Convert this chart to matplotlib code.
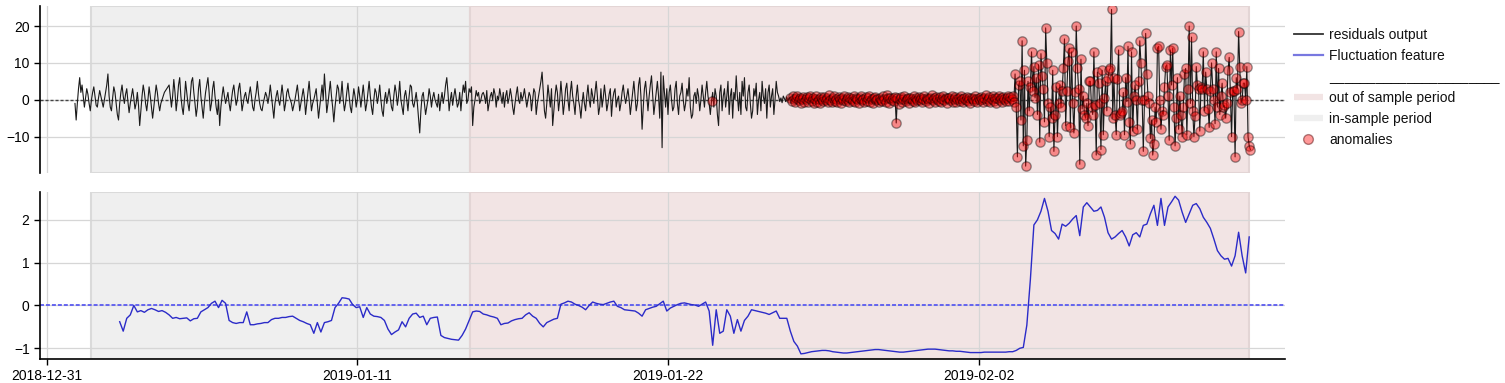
import pandas as pd
import matplotlib
matplotlib.use("Agg")
import matplotlib.pyplot as plt
from matplotlib.lines import Line2D

plt.rcParams['font.family'] = ['Liberation Sans', 'DejaVu Sans']
plt.rcParams['font.size'] = 10

# hourly residuals, one row per day, starting 2019-01-01 00:00
residuals = [
    -1, -5.5, -1, 3, 6, 2, 4, 1, -2, 0.5, 3, 1.5, -1, -3, 0, 2, 3.5, 1, -1.5, -2, 0.5, 2.5, 1, -0.5,
    -2, 0, 2, 4, 7, 1, -2, -3, 0.5, 3.5, 2, -1, -4, -5.5, -1, 2, 4, 1, -1, 1.5, 3, -0.5, -3.5, -1,
    1, 3, 0.5, -2.5, -1, 2, -1.5, -7, -3, 1, 4, 2, -1, -3, 0, 3.5, 1, -2, -5, -2, 1, 4, 2, -1,
    -3, -1, 0, 1, 2, 2.5, 3, 3.5, 4, 1, -2, 1, 5.5, 2, -3, 0, 4, 6, 1, -2, -4, 0, 5, 2,
    -1, -3, 1, 5, 6, 2, -1, -4.5, -2, 3, 5.5, 1, -2, -5, -1, 2, 4, 6, 2, -3, -1, 3, 5, 1,
    -2, -4, 0, -7, -2, 1, 3.5, 1, -1, 0.5, 2, -1, -3, 0, 2.5, 4, 1, -1.5, 0, 3, 4.5, 1, -3, -1,
    1, 2, 0, -1, 1.5, 3.5, 1, -2, -3, 0, 2, 5, 1.5, -1, -2.5, -3, -1, 0.5, 2, 1, -1, 1, 4, 1,
    -2, -5, -1, 1, 2.5, 0, -1.5, 1, 4, 1, -3, -1, 2, 3, 1, 0, -1, -3, -1.5, 0, 2, 4, 1, -3,
    -1, 1, 3, 0.5, -4, -1, 2, 5, 1, -3, -1, 0, 1.5, 3, -1, -5, -2, 1, 4, 0, 7, 2, -3.5, -1,
    2, 5, 1, -2, -6, -2, 1, 4, 3, -1, 1, 5, 0, -3, -1, 2, 4.5, 1, -2, -3.5, 0, 3, 1, -2,
    0, 3.5, 1, -2, 1, 4, 0.5, -3, -1, 2, 5, 1, -2, -4, 0, 3, 2, -1, 1, 4, 0, -3, -4.5, 0,
    2, -1, 1, 3, 0.5, -2, -3, 1, 4, 2, -1.5, 1, 5, 0, -2, -4, 1, 2.5, 0, -3, 1, 4, 3.5, -1,
    -2, 0, 2, -1, -5, -9, -3, 1, 2, -1, -4, -2, 0, 3, 1, -2, 0.5, 2, 0, -1, -2, 1.5, -3, 0,
    2, -1, 1, 4, 6, 2, -3, 0, 2, -1.5, 1, 3, 0.5, -2, -1, 2, -3, 1, 4, 2, 5, -1, 0, 3,
    2, 3.5, -7, -2, 0, 2.5, 1, 2, -1, 0, 1.5, 2, 1, -1, 2.5, -3, -1, 1, 2, 0, 3, 1.5, -2, 1,
    0, 3, 1, -1, 2, -2, 1, 2.5, -1, 0.5, 3, 1, -2, -4, -1, 1.5, 3.5, 0, -1, 2, 0, 1, 3, 0.5,
    -2, 0, 2, 1, -3, 0, 3, 2, -4, -1, 1, 3, 5, 7.5, 2, -3, -5, -1, 4, 1, -2, 3, -7, -3,
    1, 4, 2, -3, 0, 5, 1, -4, -1, 3, 4.5, 0, -3, 2, 5, 1, -1, -4, 1, 4, 0, -2, -5, -1,
    2, -1, -3, 1, 4, 0, -2, 3, 1, -1, 2, 5, 1, -4, -2, 3, -2, 0.5, 4, 1, -3, -1, 1.5, 3,
    -4.5, 0, 2, 3, -2, 0, 1, -3, -1, 2, 4, 1, -1, 1, 3, 0, -4, -1, 2, 5, 1, -3, -1, 4,
    6, 1, -8, -2, 3, 5, 1, -3, 1, 4, 6.5, 1, -4, -1, 2, 5, 1, -5, 7.5, -13, 6.5, 2, -2, 3,
    -4, 2, 4, 0, -3, -2, 3, 5, -1, -4, 1, 2, 4.5, 0, -3, -1, 3, 1, 6, -2, -5, -4, 1, 2,
    -1, 3, 1, -3, 0, 4, 1, -2, 2, 5, 1, -1, -4, -0.3, 2, -2, 3, 1, -4, -7, 2, 4, -3, 1,
    3, -2, 1, 5, -4, 1, 3, -5, 2, 0, 6.5, 1, -3, 2, -4, 5, 1, 6, -2, -3, 2, 4, -1, -5,
    -3, 3, 1, 4.5, -4, 0, 2, -3, 5, 1, -1, 3, -5, 2, 4, -2, 1, 3, -4, 0, 5, 2, 1, -0.5,
    0.5, -0.8, 1, 0.3, -0.5, 0.8, -0.3, 0.5,
    # quiet stretch flagged as anomalous
    0.6, -0.4, 0.9, 0.2, -0.7, 0.5, 1.1, -0.2, 0.4, -0.9, 0.3, 0.8, -0.5, 0.1, 0.7, -0.6,
    0.4, 1.0, -0.3, 0.6, -0.8, 0.2, 0.9, -0.5, 0.3, -1.0, 0.7, 0.1, -0.4, 0.8, -0.2, 0.5, -0.7, 1.2, 0.0, -0.6, 0.4, 0.9, -0.3, 0.2,
    -0.5, 0.7, 0.3, -0.9, 0.6, -0.1, 1.0, -0.4, 0.2, 0.8, -0.7, 0.4, 0.1, -0.3, 0.9, -0.6, 0.5, 0.2, -0.8, 0.6, 1.1, -0.2, 0.3, -0.5,
    0.7, -0.3, 0.4, 1.0, -0.6, 0.2, -0.9, 0.5, 0.8, -0.1, 0.3, -0.7, 0.6, 0.0, -0.4, 0.9, 0.2, -0.5, 1.3, 0.4, -0.8, 0.5, -0.2, 0.6,
    -0.3, 0.8, -6.3, 0.4, -1.1, 0.2, 0.7, -0.5, 0.3, 0.9, -0.4, 0.1, 0.6, -0.8, 0.5, 0.2, -0.3, 1.0, -0.6, 0.4, 0.0, 0.7, -0.2, 0.5,
    -0.7, 0.3, 0.9, -0.4, 0.6, 0.1, -0.9, 0.5, 1.2, -0.2, 0.4, -0.6, 0.8, 0.2, -0.3, 0.7, -0.5, 0.3, 1.0, -0.1, 0.5, -0.8, 0.4, 0.6,
    -0.2, 0.9, -0.5, 0.3, 0.7, -0.7, 0.1, 0.6, -0.4, 1.1, 0.2, -0.6, 0.5, 0.0, 0.8, -0.3, 0.4, -0.9, 0.6, 0.2, -0.4, 0.9, 0.3, -0.6,
    0.5, -0.2, 0.8, 0.1, -0.7, 0.6, 1.2, -0.4, 0.3, 0.7, -0.5, 0.2, 0.9, -0.3, 0.4, -0.8, 0.6, 1.0, -0.1, 0.5, -0.6, 0.8, 0.2, -0.3,
    0.6, 1.0, -0.4, 0.7, 0.2, 1.1, -0.5,
    # high variance stretch
    7, -2, -15.5, 4, 5, -5.5, 16, -12.5, 8, -18, -11, 5, -3, 3.5, 13, 2.5, 9, 0.5, 6, -4,
    9.5, -11.5, 12.5, 6.5, 3, -6, 19.5, 10, -1, -10, -2, -5, 8, -14, -4, 3.5, -10, -1, 4, -2,
    2.5, 8.5, 16.5, -7, 2.5, 10.5, 14, -7.5, 13, -1, -9, 2, 20, 8.5, 3, -17.5, 11, -2.5, 1, -4,
    -5, -1, -7, 5, 5, -2, -4, 13, -1.5, -15, 7.5, 4.5, -1, -13.5, 8, -9.5, 0.5, 5, -3, 6,
    8, 8.5, 24.5, -5, 6, -4, -9.5, 5.5, 13.5, -4, -3.5, -3, 2, -9.5, 6, -0.5, 14.5, -6, -12, 13,
    -8.5, 1, 4, 0, -8, 5, 16, 10, 0, -14, 0, 18, 7, 1, -1, -10.5, -5.5, -15, -12, -2,
    -6, 14, 14.5, 0, -8, -3, -4, 3.5, 9, 9.5, 1, -11, 13.5, 4, 14, -2, -12.5, -5, 6, -8,
    1, -4, -10, -2, 7, 8.5, -9.5, 3, 20, -1, 17, -3, -10, -4.5, 9, 4, 3, -8.5, 3.5, 3,
    13, -3, 7.5, 3, -2.5, -7.5, 2.5, 10, 3, 0, -6.5, 13, -2, 8.5, -4, 1, 4.5, -2, -1.5, -5,
    -1, 8, 11.5, 2, -10, 2.5, 2.5, -15.5, 6, 3, 18.5, 9, -1, 0, 4.5, 4.5, 0, 9, -10, -12.5,
    -13.5,
]

# fluctuation feature every 3 hours, starting 2019-01-02 14:00
fluctuation = [
    -0.38, -0.6, -0.3, -0.22, 0.0, -0.15, -0.12, -0.16,
    -0.1, -0.07, -0.1, -0.14, -0.12, -0.16, -0.22, -0.3,
    -0.28, -0.31, -0.3, -0.29, -0.36, -0.31, -0.3, -0.15,
    -0.1, -0.05, 0.05, 0.1, -0.05, 0.12, 0.05, -0.35,
    -0.4, -0.42, -0.4, -0.4, -0.15, -0.45, -0.45, -0.43,
    -0.42, -0.4, -0.4, -0.33, -0.3, -0.3, -0.28, -0.28,
    -0.26, -0.25, -0.3, -0.35, -0.38, -0.42, -0.45, -0.65,
    -0.4, -0.62, -0.4, -0.38, -0.35, -0.05, 0.05, 0.18,
    0.17, 0.15, 0.02, -0.05, -0.03, -0.28, -0.05, -0.2,
    -0.25, -0.26, -0.28, -0.35, -0.55, -0.68, -0.62, -0.57,
    -0.38, -0.5, -0.3, -0.2, -0.18, -0.28, -0.25, -0.45,
    -0.3, -0.28, -0.27, -0.7, -0.75, -0.77, -0.79, -0.8,
    -0.81, -0.7, -0.55, -0.35, -0.15, -0.13, -0.14, -0.2,
    -0.22, -0.25, -0.27, -0.3, -0.45, -0.42, -0.41, -0.36,
    -0.33, -0.31, -0.3, -0.22, -0.17, -0.25, -0.3, -0.42,
    -0.5, -0.4, -0.36, -0.32, -0.3, 0.03, 0.06, 0.1,
    0.08, 0.03, 0.0, -0.04, -0.1, 0.0, 0.08, 0.05,
    0.03, 0.02, 0.05, 0.08, 0.1, -0.02, -0.05, -0.1,
    -0.11, -0.12, -0.13, -0.18, -0.25, -0.1, -0.07, -0.04,
    -0.02, 0.04, 0.1, -0.13, -0.06, -0.02, 0.02, 0.05,
    0.06, 0.04, 0.02, 0.01, -0.02, 0.03, 0.08, -0.13,
    -0.93, -0.1, -0.65, -0.6, -0.1, -0.25, -0.65, -0.33,
    -0.6, -0.35, -0.25, -0.1, -0.12, -0.14, -0.16, -0.18,
    -0.21, -0.17, -0.13, -0.3, -0.3, -0.3, -0.6, -0.84,
    -0.95, -1.13, -1.12, -1.1, -1.08, -1.07, -1.06, -1.05,
    -1.05, -1.06, -1.08, -1.09, -1.1, -1.11, -1.11, -1.1,
    -1.09, -1.08, -1.07, -1.06, -1.05, -1.04, -1.03, -1.03,
    -1.04, -1.05, -1.06, -1.07, -1.08, -1.09, -1.09, -1.08,
    -1.07, -1.06, -1.05, -1.04, -1.03, -1.02, -1.02, -1.02,
    -1.03, -1.04, -1.05, -1.06, -1.06, -1.07, -1.07, -1.08,
    -1.09, -1.1, -1.1, -1.1, -1.1, -1.09, -1.09, -1.09,
    -1.09, -1.09, -1.09, -1.09, -1.08, -1.08, -1.05, -1.0,
    -0.98, -0.46, 0.6, 1.88, 2.0, 2.2, 2.5, 2.2,
    1.75, 1.68, 1.55, 1.9, 1.85, 1.92, 2.02, 2.1,
    1.63, 2.3, 2.4, 2.3, 2.2, 2.22, 2.3, 2.06,
    1.7, 1.55, 1.6, 1.68, 1.75, 1.6, 1.39, 1.65,
    1.7, 1.6, 1.87, 1.9, 2.14, 2.34, 1.87, 2.5,
    1.87, 2.3, 2.42, 2.55, 2.46, 2.18, 1.94, 2.14,
    2.34, 2.38, 2.26, 2.06, 1.94, 1.8, 1.55, 1.28,
    1.16, 1.08, 1.1, 0.92, 1.16, 1.71, 1.16, 0.76,
    1.6,
]

residual_start = "2019-01-01 00:00"
fluctuation_start = "2019-01-02 14:00"
in_sample = ("2019-01-01 14:00", "2019-01-15 00:00")
out_sample = ("2019-01-15 00:00", "2019-02-11 14:00")
anomaly_from = "2019-01-26 08:00"
single_anomalies = ["2019-01-23 13:00"]
date_ticks = ["2018-12-31", "2019-01-11", "2019-01-22", "2019-02-02"]

res = pd.Series(residuals, index=pd.date_range(residual_start, periods=len(residuals), freq="h"))
fl = pd.Series(fluctuation, index=pd.date_range(fluctuation_start, periods=len(fluctuation), freq="3h"))
mask = (res.index >= pd.Timestamp(anomaly_from)) | res.index.isin(pd.to_datetime(single_anomalies))
anom = res[mask]

GRAY = '#efefef'
PINK = '#f2e4e4'

fig = plt.figure(figsize=(15.05, 3.83), dpi=100)
ax1 = fig.add_axes([0.0266, 0.548, 0.8272, 0.436])
ax2 = fig.add_axes([0.0266, 0.0627, 0.8272, 0.436])

xlim = (pd.Timestamp("2018-12-30 18:18"), pd.Timestamp("2019-02-12 20:24"))
ticks = pd.to_datetime(date_ticks)

for ax in (ax1, ax2):
    ax.axvspan(pd.Timestamp(in_sample[0]), pd.Timestamp(in_sample[1]),
               facecolor=GRAY, edgecolor='#dadada', lw=1.5, zorder=0.2)
    ax.axvspan(pd.Timestamp(out_sample[0]), pd.Timestamp(out_sample[1]),
               facecolor=PINK, edgecolor='#e3d5d5', lw=1.5, zorder=0.2)
    ax.grid(True, color='#d6d6d6', lw=0.9, zorder=0.5)
    ax.set_axisbelow(True)
    ax.set_xlim(*xlim)
    ax.set_xticks(ticks)
    for s in ('top', 'right'):
        ax.spines[s].set_visible(False)
    ax.spines['left'].set_linewidth(1.2)
    ax.spines['bottom'].set_linewidth(1.2)
    ax.tick_params(direction='out', length=4, width=1, colors='black', labelsize=10)

# top: residuals
ax1.axhline(0, color='#444444', ls=(0, (2.2, 1.4)), lw=1, zorder=1.5)
ax1.plot(res.index, res.values, color='#1a1a1a', lw=0.8, zorder=2)
ax1.scatter(anom.index, anom.values, s=45, c='red', alpha=0.4,
            edgecolors='black', linewidths=1, zorder=3)
ax1.set_ylim(-19.9, 25.4)
ax1.set_yticks([-10, 0, 10, 20])
ax1.spines['bottom'].set_visible(False)
ax1.tick_params(axis='x', length=0, labelbottom=False)

# bottom: fluctuation feature
ax2.axhline(0, color='#5a5af0', ls=(0, (2.2, 1.1)), lw=1.3, zorder=1.5)
ax2.plot(fl.index, fl.values, color='#2b2bc8', lw=1, zorder=2)
ax2.set_ylim(-1.25, 2.65)
ax2.set_yticks([-1, 0, 1, 2])
ax2.set_xticklabels(date_ticks)

handles = [
    Line2D([], [], color='#333333', lw=1.3),
    Line2D([], [], color='#7878e0', lw=1.6),
    Line2D([], [], color='none'),
    Line2D([], [], color=PINK, lw=4.5, solid_capstyle='butt'),
    Line2D([], [], color=GRAY, lw=4.5, solid_capstyle='butt'),
    Line2D([], [], ls='', marker='o', ms=7, mfc=(1, 0, 0, 0.4), mec=(0.3, 0, 0, 0.45)),
]
labels = ['residuals output', 'Fluctuation feature', 'sep',
          'out of sample period', 'in-sample period', 'anomalies']
leg = fig.legend(handles, labels, loc='upper left', bbox_to_anchor=(0.856, 0.9415),
                 frameon=False, borderaxespad=0, handlelength=2.1, handletextpad=0.45,
                 labelspacing=0.5, fontsize=10)
leg.get_texts()[2].set_text('_' * 22)
for t in leg.get_texts():
    t.set_color('#111111')

fig.savefig('out.png', dpi=100)
